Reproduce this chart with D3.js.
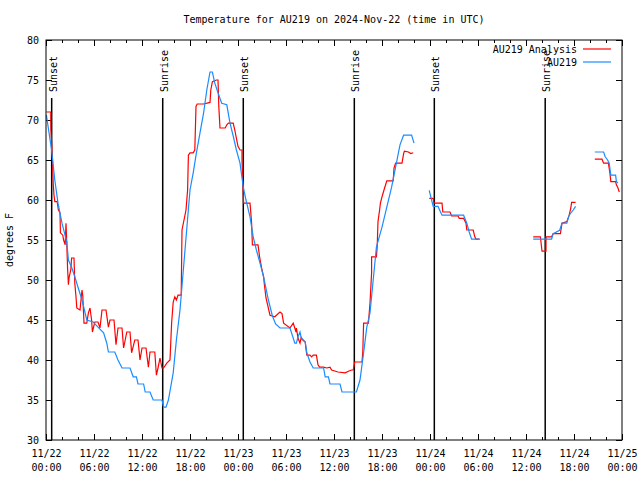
<!DOCTYPE html>
<html><head><meta charset="utf-8">
<script src="https://cdn.jsdelivr.net/npm/d3@7"></script>
<style>
body{margin:0;background:#fff;}
svg{display:block;}
text{font-family:"DejaVu Sans Mono","Liberation Mono",monospace;font-size:10px;fill:#000;}
</style></head>
<body><svg id="c" width="640" height="480"></svg>
<script>
// hours after 2024-11-22 00:00 UTC
const obsHours = [0.05,0.7,1.1,1.5,2.0,2.6,2.8,3.2,3.6,4.0,4.5,5.1,5.9,6.5,7.2,7.6,7.8,8.6,9.0,9.5,10.5,10.9,11.3,11.5,12.2,12.4,13.0,13.4,14.5,14.7,15.0,15.3,15.9,16.3,16.75,18.0,18.4,18.8,19.25,19.7,20.1,20.5,20.8,21.1,21.5,21.96,22.6,23.0,23.4,23.8,24.25,24.66,25.0,25.5,25.9,26.3,26.75,27.2,27.8,28.3,28.7,29.25,30.5,30.9,31.1,31.3,31.5,31.75,31.9,32.4,32.6,33.0,33.4,34.7,34.9,35.3,35.5,36.75,37.0,38.8,39.25,39.7,40.1,40.5,40.9,41.3,42.0,42.6,43.2,43.8,44.25,44.7,45.7,46.0,
  46.9,
  47.9,48.4,49.0,49.5,52.2,52.6,52.9,53.2,54.2,
  57.0,
  60.9,63.2,63.4,64.2,64.5,65.1,65.4,65.9,66.2,
  67.5,
  68.6,69.7,69.9,70.2,70.4,70.6,71.2,71.3,71.5];
const obsTemps = [70.6,66.25,62.5,59.6,57.1,54.75,52.5,51.6,50.4,49.1,47.5,45,44.75,44.1,43.4,42.1,41,41,40,39,39,37.9,37.9,37,37,36,36,35,35,34.1,34.1,35,38.4,42.5,46.25,61.25,63.4,65.9,68.4,70.9,73.75,76,76,74.6,73.4,72.1,71.9,69.6,68,66.25,64.6,61.6,60,57.9,55.4,53.75,52.1,50.4,47.5,45.5,44.5,44,44,42.75,42.1,42.1,42.9,43.5,42.8,42.25,40.9,39.75,39,39,37.9,37.9,37,37,36,36,37.5,40.9,44.1,45.9,50,54.1,56.6,59.1,61.6,64.6,66.9,68.1,68.1,67.1,
  null,
  61.2,59.2,59.2,58.1,58.1,57.1,56,55.1,55.1,
  null,
  55.1,55.1,55.8,56.2,57.1,57.1,58.1,58.75,59.2,
  null,
  66,66,65.4,65,64.6,63.1,63.1,62.3,62.1];

const anaHours = [0.05,0.6,0.6,0.8,0.9,1.0,1.1,1.4,1.55,1.75,1.8,2.1,2.2,2.4,2.5,2.6,2.7,2.8,2.9,3.1,3.2,3.5,3.6,3.75,3.85,4.25,4.5,4.6,4.75,5.1,5.3,5.5,5.7,5.8,6.1,6.5,6.75,7.0,7.5,7.8,8.0,8.5,8.75,9.0,9.5,9.7,10.1,10.5,10.7,11.1,11.5,11.75,12.0,12.5,12.8,13.0,13.6,13.8,14.0,14.25,14.5,14.7,15.1,15.5,15.7,15.9,16.1,16.3,16.5,16.9,17.0,17.5,17.7,17.8,18.0,18.4,18.6,18.75,18.9,19.7,20.5,20.6,20.8,21.3,21.5,21.6,21.75,22.4,22.6,22.8,23.4,23.6,23.8,24.0,24.25,24.5,24.5,24.7,25.5,25.6,25.7,25.8,26.5,26.7,27.0,27.2,27.3,27.5,28.0,28.6,29.25,29.5,29.7,30.5,30.9,31.1,31.25,31.3,31.5,31.75,31.9,32.1,32.4,32.6,33.0,33.2,33.4,33.8,34.0,34.2,34.7,35.1,35.5,35.7,36.5,37.4,37.8,38.2,38.4,38.6,39.5,39.6,39.7,40.3,40.5,40.7,40.7,41.3,41.4,41.5,41.7,41.8,42.0,42.25,42.6,43.4,43.5,43.7,44.5,44.7,44.8,45.3,45.6,45.9,
  46.9,
  47.9,48.4,48.5,49.5,49.6,50.5,50.7,51.5,51.66,52.2,52.5,52.6,53.4,53.6,53.75,54.2,
  57.0,
  60.9,61.8,62.0,62.5,62.5,63.2,63.4,64.3,64.5,65.1,65.4,65.6,65.7,66.2,
  67.5,
  68.6,69.5,69.7,70.3,70.5,70.6,71.2,71.3,71.5,71.66];
const anaTemps = [71,71,69,65.25,62.1,60.6,59.8,59.8,58.75,58.4,55.9,55.6,55,54.4,57.1,54.5,51.4,49.4,50.4,51.25,52.75,52.75,49.6,47.9,46.5,46.25,48.75,48.0,44.6,44.6,45.9,46.5,45,43.5,44.75,44.75,44,46.25,46.25,44.1,45,45,41.9,44,44,41.5,43.5,43.5,40.9,42.5,42.5,40,41.5,41.5,39.1,41,41,38.1,39,40.25,39,39,39.6,40,44.6,47.25,47.9,47.5,48.1,48.1,56.25,58.75,61.25,65.6,65.9,65.9,66.25,71.7,72,72,72.2,73.75,74.8,75,75,71.7,69,69,69.4,69.6,69.6,68.75,67.7,66.7,66.25,66.25,65,59.6,59.6,58.4,57.1,54.4,54.4,52.9,51.25,50.4,49.4,47.75,45.6,45.4,46,45.8,44.6,44,44.6,44,43.5,44,42.75,42.1,42.8,42.5,42.25,40.6,40.6,40.4,40.6,40.6,39.4,39.1,39.1,39,39.1,38.75,38.5,38.4,38.6,38.75,38.75,39.75,39.75,41,44.6,44.6,47.1,50.9,52.9,52.9,54.2,57.3,58.75,59.6,60.4,61.25,62.4,62.4,64,64.6,64.6,65.8,66.1,66,65.8,65.9,
  null,
  60.2,60.2,59.6,59.6,58.5,58.5,58,58,57.7,57.7,57.1,56.25,56.25,55.4,55.1,55.1,
  null,
  55.4,55.4,53.6,53.6,55.4,55.4,55.8,55.8,57.1,57.3,58.1,59,59.7,59.7,
  null,
  65.1,65.1,64.6,64.6,63.3,62.3,62.3,61.9,61.5,61];

const sunHours = [0.71,14.59,24.66,38.54,48.54,62.4];
const sunLabels = ["Sunset","Sunrise","Sunset","Sunrise","Sunset","Sunrise"];
const yTicks = [30,35,40,45,50,55,60,65,70,75,80];
const seriesNames = ["AU219 Analysis","AU219"];
const seriesColors = ["#ff0000","#1a8cff"];
const titleText = "Temperature for AU219 on 2024-Nov-22 (time in UTC)";
const yTitle = "degrees F";

const t0 = Date.UTC(2024,10,22);
const toDate = h => new Date(t0 + h*3600000);

const L=46,R=622,T=40,B=440;
const svg = d3.select("#c");
const x = d3.scaleUtc().domain([toDate(0),toDate(72)]).range([L,R]);
const y = d3.scaleLinear().domain([30,80]).range([B,T]);

// title
svg.append("text").attr("x",334).attr("y",23).attr("text-anchor","middle").text(titleText);
svg.append("text").attr("transform","translate(13,240) rotate(-90)").attr("text-anchor","middle").text(yTitle);

// axes
const axStyle = g => { g.select(".domain").remove(); g.selectAll("line").attr("stroke","#000"); g.attr("font-family",null).attr("font-size",null); };
svg.append("g").attr("transform",`translate(0,${B})`)
  .call(d3.axisBottom(x).ticks(d3.utcHour.every(2)).tickSizeInner(-3).tickSizeOuter(0).tickFormat(""))
  .call(axStyle);
svg.append("g").attr("transform",`translate(0,${T})`)
  .call(d3.axisTop(x).ticks(d3.utcHour.every(2)).tickSizeInner(-3).tickSizeOuter(0).tickFormat(""))
  .call(axStyle);
svg.append("g").attr("transform",`translate(0,${T})`)
  .call(d3.axisTop(x).ticks(d3.utcHour.every(6)).tickSizeInner(-6).tickSizeOuter(0).tickFormat(""))
  .call(axStyle);
const xb = svg.append("g").attr("transform",`translate(0,${B})`)
  .call(d3.axisBottom(x).ticks(d3.utcHour.every(6)).tickSizeInner(-6).tickSizeOuter(0).tickFormat(d3.utcFormat("%m/%d|%H:%M")))
  .call(axStyle);
xb.selectAll(".tick text").each(function(){
  const s = d3.select(this); const parts = s.text().split("|");
  s.text(null).attr("y",0).attr("dy",null);
  s.append("tspan").attr("x",0).attr("y",17).text(parts[0]);
  s.append("tspan").attr("x",0).attr("y",31).text(parts[1]);
});
svg.append("g").attr("transform",`translate(${L},0)`)
  .call(d3.axisLeft(y).tickValues(yTicks).tickSizeInner(-6).tickSizeOuter(0).tickPadding(7).tickFormat(d3.format("d")))
  .call(axStyle);
svg.append("g").attr("transform",`translate(${R},0)`)
  .call(d3.axisRight(y).tickValues(yTicks).tickSizeInner(-6).tickSizeOuter(0).tickFormat(""))
  .call(axStyle);

// sun lines
sunHours.forEach((h,i)=>{
  const sx = x(toDate(h));
  svg.append("line").attr("x1",sx).attr("x2",sx).attr("y1",98).attr("y2",B).attr("stroke","#000").attr("stroke-width",1.5);
  svg.append("text").attr("transform",`translate(${sx+5},92) rotate(-90)`).text(sunLabels[i]);
});

// series
const mk = (hs,vs) => hs.map((h,i)=>({d:toDate(h),v:vs[i]}));
const line = d3.line().defined(p=>p.v!==null).x(p=>x(p.d)).y(p=>y(p.v));
const data = [mk(anaHours,anaTemps), mk(obsHours,obsTemps)];
data.forEach((d,i)=>{
  svg.append("path").datum(d).attr("d",line).attr("fill","none").attr("stroke",seriesColors[i]).attr("stroke-width",1.2).attr("stroke-linejoin","miter");
});

// frame
svg.append("rect").attr("x",L).attr("y",T).attr("width",R-L).attr("height",B-T).attr("fill","none").attr("stroke","#000").attr("stroke-width",1);

// legend
seriesNames.forEach((n,i)=>{
  const ly = 49 + i*13;
  svg.append("text").attr("x",577).attr("y",ly+3.5).attr("text-anchor","end").text(n);
  svg.append("line").attr("x1",583).attr("x2",611).attr("y1",ly).attr("y2",ly).attr("stroke",seriesColors[i]).attr("stroke-width",1.2);
});
</script></body></html>
